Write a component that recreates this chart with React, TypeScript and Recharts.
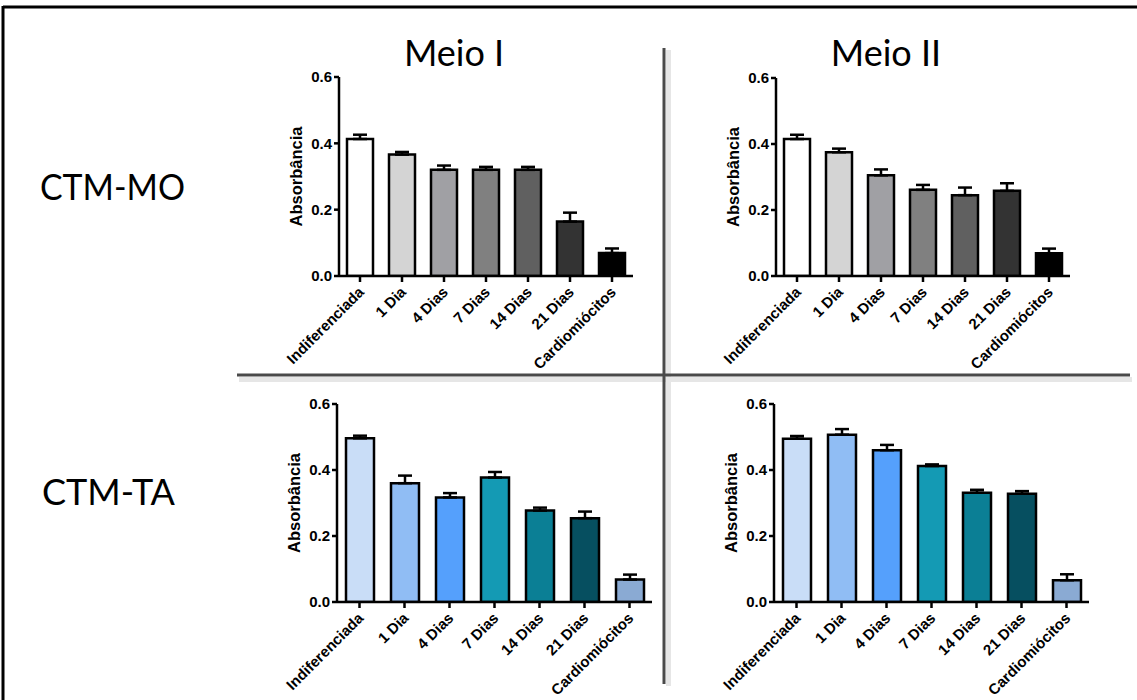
import React from 'react';
import { BarChart, Bar, XAxis, YAxis, Cell, ErrorBar } from 'recharts';

const categories = ['Indiferenciada', '1 Dia', '4 Dias', '7 Dias', '14 Dias', '21 Dias', 'Cardiomiócitos'];

// CTM-MO
const moMeio1 = [0.413, 0.366, 0.32, 0.32, 0.32, 0.164, 0.069];
const moMeio1Err = [0.013, 0.008, 0.013, 0.009, 0.009, 0.027, 0.014];
const moMeio2 = [0.415, 0.375, 0.305, 0.261, 0.245, 0.258, 0.069];
const moMeio2Err = [0.013, 0.011, 0.018, 0.015, 0.023, 0.023, 0.014];

// CTM-TA
const taMeio1 = [0.496, 0.36, 0.317, 0.377, 0.277, 0.254, 0.068];
const taMeio1Err = [0.008, 0.023, 0.013, 0.017, 0.009, 0.02, 0.015];
const taMeio2 = [0.495, 0.507, 0.46, 0.412, 0.331, 0.328, 0.066];
const taMeio2Err = [0.008, 0.017, 0.016, 0.005, 0.009, 0.008, 0.018];

const yTicks = [0, 0.2, 0.4, 0.6];

const GREYS = ['#ffffff', '#d4d4d4', '#a0a0a4', '#808080', '#606060', '#333333', '#000000'];
const BLUES = ['#c9ddf7', '#90bdf4', '#55a0fc', '#149ab4', '#0b7f95', '#064f60', '#8aaad3'];

const AXIS_FONT = '"Liberation Sans", Arial, sans-serif';
const TITLE_FONT = 'Lato, "Open Sans", sans-serif';
const Y_W = 70;

const XTick = ({ x, y, payload }: any) => (
  <g transform={`translate(${x + 5},${y + 9})`}>
    <text
      textAnchor="end"
      transform="rotate(-45)"
      fontSize={15}
      fontWeight="bold"
      fontFamily={AXIS_FONT}
      fill="#000"
    >
      {payload.value}
    </text>
  </g>
);

interface PanelProps {
  values: number[];
  errors: number[];
  fills: string[];
  left: number;
  top: number;
  w: number;
  h: number;
  barSize: number;
}

const Panel: React.FC<PanelProps> = ({ values, errors, fills, left, top, w, h, barSize }) => {
  const data = categories.map((name, i) => ({ name, value: values[i], err: [0, errors[i]] }));
  return (
    <div style={{ position: 'absolute', left: left - Y_W, top: top - 10 }}>
      <BarChart
        width={Y_W + w + 10}
        height={10 + h + 100}
        data={data}
        margin={{ top: 10, right: 10, left: 0, bottom: 0 }}
        barCategoryGap={0}
      >
        <XAxis
          dataKey="name"
          interval={0}
          height={100}
          axisLine={{ stroke: '#000', strokeWidth: 2.5 }}
          tickLine={{ stroke: '#000', strokeWidth: 2.5 }}
          tickSize={6}
          tickMargin={2}
          tick={<XTick />}
        />
        <YAxis
          width={Y_W}
          domain={[0, 0.6]}
          ticks={yTicks}
          allowDataOverflow
          tickFormatter={(v: number) => v.toFixed(1)}
          axisLine={{ stroke: '#000', strokeWidth: 2.5 }}
          tickLine={{ stroke: '#000', strokeWidth: 2.5 }}
          tickSize={5}
          tickMargin={2}
          tick={{ fontSize: 15, fontWeight: 'bold', fill: '#000', fontFamily: AXIS_FONT }}
          label={{
            value: 'Absorbância',
            angle: -90,
            position: 'insideLeft',
            offset: 27,
            style: { textAnchor: 'middle', fontSize: 16.5, fontWeight: 'bold', fill: '#000', fontFamily: AXIS_FONT },
          }}
        />
        <Bar dataKey="value" barSize={barSize} stroke="#000" strokeWidth={2.5} isAnimationActive={false}>
          {data.map((d, i) => (
            <Cell key={d.name} fill={fills[i]} />
          ))}
          <ErrorBar dataKey="err" width={7} stroke="#000" strokeWidth={2.5} direction="y" />
        </Bar>
      </BarChart>
    </div>
  );
};

export default function App() {
  return (
    <div
      style={{
        position: 'absolute',
        left: 0,
        top: 0,
        width: 1137,
        height: 700,
        background: '#fff',
        overflow: 'hidden',
      }}
    >
      <svg width={1137} height={700} style={{ position: 'absolute', left: 0, top: 0 }}>
        {/* frame */}
        <line x1={3} y1={7} x2={1137} y2={7} stroke="#000" strokeWidth={3} />
        <line x1={3} y1={6} x2={3} y2={700} stroke="#000" strokeWidth={3} />
        {/* dividers with soft shadow */}
        <rect x={666} y={50} width={5} height={636} fill="#e6e6e6" />
        <rect x={239} y={377} width={893} height={5} fill="#e6e6e6" />
        <line x1={664} y1={48} x2={664} y2={684} stroke="#4a4a4a" strokeWidth={3} />
        <line x1={237} y1={375} x2={1130} y2={375} stroke="#4a4a4a" strokeWidth={3} />
        {/* titles */}
        <text x={454} y={66} textAnchor="middle" fontSize={36} fontFamily={TITLE_FONT} fill="#000">
          Meio I
        </text>
        <text x={886} y={66} textAnchor="middle" fontSize={36} fontFamily={TITLE_FONT} fill="#000">
          Meio II
        </text>
        <text x={40} y={200} fontSize={36} textLength={145} lengthAdjust="spacingAndGlyphs" fontFamily={TITLE_FONT} fill="#000">
          CTM-MO
        </text>
        <text x={42} y={505} fontSize={36} textLength={133} lengthAdjust="spacingAndGlyphs" fontFamily={TITLE_FONT} fill="#000">
          CTM-TA
        </text>
      </svg>
      <Panel values={moMeio1} errors={moMeio1Err} fills={GREYS} left={339} top={77} w={294} h={199} barSize={26} />
      <Panel values={moMeio2} errors={moMeio2Err} fills={GREYS} left={776} top={78} w={294} h={198} barSize={26} />
      <Panel values={taMeio1} errors={taMeio1Err} fills={BLUES} left={337} top={404} w={315} h={198} barSize={28} />
      <Panel values={taMeio2} errors={taMeio2Err} fills={BLUES} left={774} top={404} w={315} h={198} barSize={28} />
    </div>
  );
}
